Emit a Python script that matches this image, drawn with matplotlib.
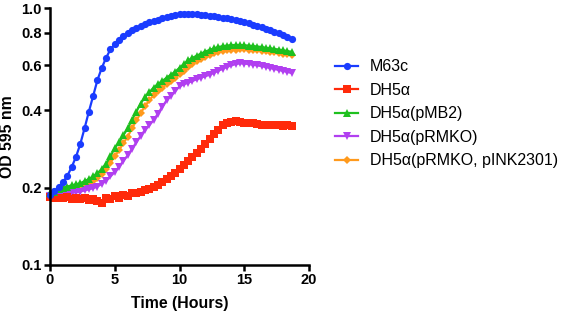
import matplotlib
matplotlib.use("Agg")
import matplotlib.pyplot as plt
from matplotlib.ticker import FixedLocator, NullLocator, FixedFormatter

plt.rcParams['font.family'] = ['Liberation Sans', 'DejaVu Sans']

time_h = [i / 3 for i in range(57)]

m63c = [0.188, 0.194, 0.201, 0.210, 0.222, 0.240, 0.263, 0.295, 0.340, 0.395,
        0.455, 0.525, 0.585, 0.640, 0.690, 0.722, 0.750, 0.775, 0.800, 0.820,
        0.838, 0.852, 0.868, 0.880, 0.892, 0.902, 0.912, 0.920, 0.930, 0.938,
        0.945, 0.950, 0.950, 0.948, 0.946, 0.943, 0.940, 0.935, 0.930, 0.925,
        0.918, 0.912, 0.905, 0.897, 0.888, 0.880, 0.872, 0.862, 0.852, 0.842,
        0.830, 0.820, 0.810, 0.798, 0.785, 0.770, 0.755]

dh5a = [0.184, 0.183, 0.183, 0.182, 0.184, 0.181, 0.183, 0.180, 0.182, 0.179,
        0.181, 0.177, 0.175, 0.182, 0.181, 0.185, 0.183, 0.188, 0.186, 0.190,
        0.191, 0.193, 0.195, 0.198, 0.201, 0.205, 0.210, 0.216, 0.222, 0.229,
        0.236, 0.244, 0.253, 0.262, 0.272, 0.283, 0.295, 0.308, 0.322, 0.336,
        0.350, 0.358, 0.360, 0.362, 0.360, 0.358, 0.357, 0.356, 0.353, 0.351,
        0.350, 0.349, 0.349, 0.350, 0.348, 0.349, 0.348]

pmb2 = [0.190, 0.193, 0.197, 0.200, 0.202, 0.204, 0.206, 0.208, 0.212, 0.216,
        0.221, 0.228, 0.236, 0.248, 0.265, 0.285, 0.300, 0.320, 0.340, 0.368,
        0.395, 0.425, 0.450, 0.470, 0.490, 0.505, 0.520, 0.535, 0.550, 0.565,
        0.585, 0.605, 0.625, 0.640, 0.652, 0.665, 0.677, 0.687, 0.697, 0.705,
        0.710, 0.714, 0.717, 0.718, 0.718, 0.716, 0.714, 0.711, 0.708, 0.705,
        0.700, 0.697, 0.693, 0.689, 0.684, 0.680, 0.675]

prmko = [0.185, 0.186, 0.188, 0.189, 0.190, 0.191, 0.192, 0.193, 0.195, 0.197,
         0.199, 0.202, 0.207, 0.213, 0.221, 0.230, 0.241, 0.254, 0.267, 0.283,
         0.300, 0.318, 0.335, 0.350, 0.366, 0.388, 0.412, 0.437, 0.455, 0.475,
         0.495, 0.505, 0.512, 0.520, 0.528, 0.536, 0.543, 0.550, 0.560, 0.570,
         0.580, 0.590, 0.598, 0.605, 0.609, 0.608, 0.605, 0.602, 0.598, 0.594,
         0.589, 0.584, 0.579, 0.574, 0.569, 0.564, 0.558]

prmko_pink = [0.188, 0.190, 0.193, 0.195, 0.197, 0.199, 0.201, 0.203, 0.206, 0.209,
              0.213, 0.218, 0.225, 0.236, 0.250, 0.265, 0.280, 0.298, 0.316, 0.340,
              0.365, 0.390, 0.415, 0.437, 0.458, 0.475, 0.490, 0.505, 0.520, 0.535,
              0.552, 0.570, 0.588, 0.605, 0.620, 0.633, 0.645, 0.656, 0.666, 0.674,
              0.680, 0.684, 0.687, 0.689, 0.690, 0.690, 0.689, 0.687, 0.685, 0.682,
              0.679, 0.676, 0.672, 0.668, 0.665, 0.661, 0.657]

labels = ["M63c", "DH5α", "DH5α(pMB2)", "DH5α(pRMKO)", "DH5α(pRMKO, pINK2301)"]
y_ticks = [0.1, 0.2, 0.4, 0.6, 0.8, 1.0]
y_tick_labels = ["0.1", "0.2", "0.4", "0.6", "0.8", "1.0"]
x_ticks = [0, 5, 10, 15, 20]

fig = plt.figure(figsize=(5.63, 3.17), dpi=100)
ax = fig.add_axes([50 / 563, 52 / 317, 259 / 563, 257 / 317])

styles = [
    (m63c, "#1a3cff", "o", 5.2),
    (dh5a, "#ff2a0a", "s", 5.2),
    (pmb2, "#1ec01e", "^", 5.8),
    (prmko, "#b13ff0", "v", 5.8),
    (prmko_pink, "#ff9a1c", "D", 4.0),
]
order = [4, 3, 1, 2, 0]
handles = {}
for idx in order:
    vals, col, mk, ms = styles[idx]
    h, = ax.plot(time_h, vals, color=col, marker=mk, markersize=ms, linewidth=1.6,
                 markeredgewidth=0, label=labels[idx])
    handles[idx] = h

ax.set_yscale("log")
ax.set_ylim(0.1, 1.0)
ax.set_xlim(0, 20)
ax.yaxis.set_major_locator(FixedLocator(y_ticks))
ax.yaxis.set_major_formatter(FixedFormatter(y_tick_labels))
ax.yaxis.set_minor_locator(NullLocator())
ax.set_xticks(x_ticks)

for s in ["top", "right"]:
    ax.spines[s].set_visible(False)
for s in ["left", "bottom"]:
    ax.spines[s].set_linewidth(1.8)
    ax.spines[s].set_color("black")

ax.tick_params(axis="both", which="major", direction="out", length=4, width=1.8,
               labelsize=10.5, pad=2)
for lbl in ax.get_xticklabels() + ax.get_yticklabels():
    lbl.set_fontweight("bold")

ax.set_xlabel("Time (Hours)", fontsize=11.4, fontweight="bold", labelpad=6)
ax.set_ylabel("OD 595 nm", fontsize=11.4, fontweight="bold", labelpad=4)
for spine in ax.spines.values():
    spine.set_clip_on(False)
for line in ax.lines:
    line.set_clip_on(False)

leg = fig.legend([handles[i] for i in range(5)], labels,
                 loc="upper left", bbox_to_anchor=(328.6 / 563, 1 - 53 / 317),
                 frameon=False, fontsize=11.5, handlelength=1.45,
                 labelspacing=0.53, handletextpad=0.75, borderaxespad=0)

fig.savefig("out.png", dpi=100)
